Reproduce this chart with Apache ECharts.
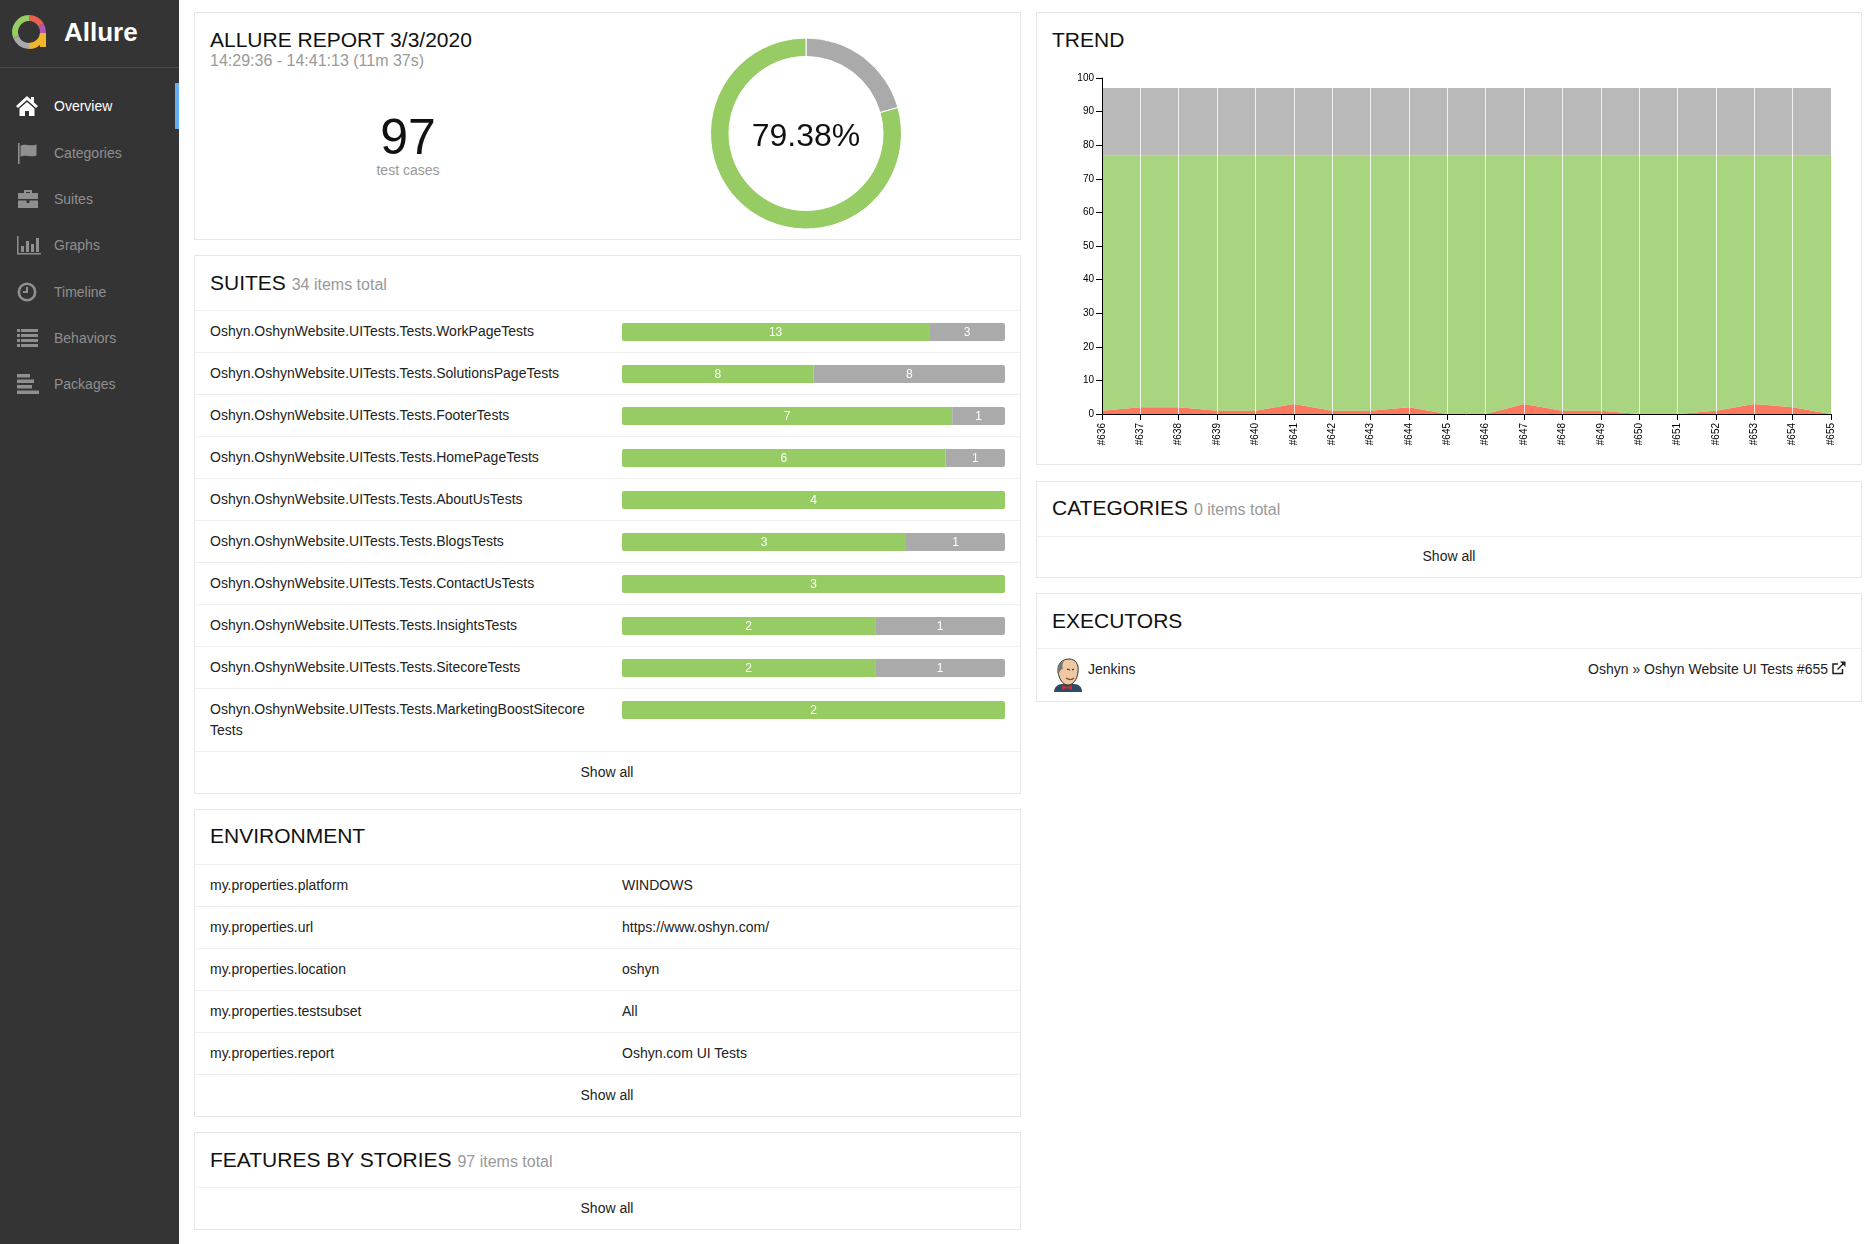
<!DOCTYPE html>
<html lang="en">

<head>
  <meta charset="UTF-8">
  <title>Allure Report</title>
  <script src="https://cdn.jsdelivr.net/npm/echarts@6/dist/echarts.min.js"></script>
  <style>
    html, body { margin: 0; padding: 0; background: #fff; }
    body { width: 1870px; height: 1244px; overflow: hidden; position: relative; font: 14px "Liberation Sans", Arial, sans-serif; color: #222; }
    .abs { position: absolute; white-space: nowrap; }
    #side { position: absolute; left: 0; top: 0; width: 179px; height: 1244px; background: #343434; }
    #sideline { position: absolute; left: 0; top: 67px; width: 179px; height: 1px; background: #4a4a4a; }
    #active { position: absolute; left: 175px; top: 83px; width: 4px; height: 46px; background: #63aef5; }
    .card { position: absolute; box-sizing: border-box; background: #fff; border: 1px solid #e6e6e6; }
    .muted { font-size: 16px; color: #999; }
    .sep { position: absolute; height: 1px; background: #eee; }
    .chart { position: absolute; }
  </style>
</head>

<body>
  <div id="side"><div id="sideline"></div><div id="active"></div></div>
  <div id="page"></div>
  <div id="pie" class="chart" style="left:706px;top:33px;width:200px;height:200px;"></div>
  <div id="bars" class="chart" style="left:600px;top:311px;width:420px;height:420px;"></div>
  <div id="trend" class="chart" style="left:1036px;top:12px;width:826px;height:453px;"></div>

  <script>
    // statistic
    var passedTotal = 77;
    var skippedTotal = 20;

    // suites widget
    var suiteNames = [
      'Oshyn.OshynWebsite.UITests.Tests.WorkPageTests',
      'Oshyn.OshynWebsite.UITests.Tests.SolutionsPageTests',
      'Oshyn.OshynWebsite.UITests.Tests.FooterTests',
      'Oshyn.OshynWebsite.UITests.Tests.HomePageTests',
      'Oshyn.OshynWebsite.UITests.Tests.AboutUsTests',
      'Oshyn.OshynWebsite.UITests.Tests.BlogsTests',
      'Oshyn.OshynWebsite.UITests.Tests.ContactUsTests',
      'Oshyn.OshynWebsite.UITests.Tests.InsightsTests',
      'Oshyn.OshynWebsite.UITests.Tests.SitecoreTests',
      'Oshyn.OshynWebsite.UITests.Tests.MarketingBoostSitecore<br>Tests'
    ];
    var suitePassed = [13, 8, 7, 6, 4, 3, 3, 2, 2, 2];
    var suiteSkipped = [3, 8, 1, 1, 0, 1, 0, 1, 1, 0];

    // trend widget
    var builds = ['#636', '#637', '#638', '#639', '#640', '#641', '#642', '#643', '#644', '#645',
      '#646', '#647', '#648', '#649', '#650', '#651', '#652', '#653', '#654', '#655'];
    var trendFailed = [1, 2, 2, 1, 1, 3, 1, 1, 2, 0, 0, 3, 1, 1, 0, 0, 1, 3, 2, 0];
    var trendPassed = [76, 75, 75, 76, 76, 74, 76, 76, 75, 77, 77, 74, 76, 76, 77, 77, 76, 74, 75, 77];
    var trendSkipped = [20, 20, 20, 20, 20, 20, 20, 20, 20, 20, 20, 20, 20, 20, 20, 20, 20, 20, 20, 20];

    // environment widget
    var envKeys = ['my.properties.platform', 'my.properties.url', 'my.properties.location', 'my.properties.testsubset', 'my.properties.report'];
    var envValues = ['WINDOWS', 'https://www.oshyn.com/', 'oshyn', 'All', 'Oshyn.com UI Tests'];

    var menuNames = ['Overview', 'Categories', 'Suites', 'Graphs', 'Timeline', 'Behaviors', 'Packages'];

    var GREEN = '#97cc64', GRAY = '#aaaaaa', RED = '#fd5a3e';

    //#region page frame
    var page = document.getElementById('page');
    var side = document.getElementById('side');

    function add(parent, cls, css, html) {
      var el = document.createElement('div');
      el.className = cls;
      el.style.cssText = css;
      if (html !== undefined) el.innerHTML = html;
      parent.appendChild(el);
      return el;
    }
    // one line of text, vertically centred on cy
    function text(parent, x, cy, str, css) {
      return add(parent, 'abs', 'left:' + x + 'px;top:' + (cy - 12) + 'px;line-height:24px;' + (css || ''), str);
    }
    function centered(parent, cx, cy, str, css) {
      return add(parent, 'abs', 'left:' + (cx - 200) + 'px;width:400px;text-align:center;top:' + (cy - 12) + 'px;line-height:24px;' + (css || ''), str);
    }
    function card(x, y, w, h) {
      add(page, 'card', 'left:' + x + 'px;top:' + y + 'px;width:' + w + 'px;height:' + h + 'px;');
    }
    function sep(x, y, w) {
      add(page, 'sep', 'left:' + x + 'px;top:' + y + 'px;width:' + w + 'px;');
    }

    var LEFT = 194, RIGHT = 1036, LEFTW = 827, RIGHTW = 826;

    card(LEFT, 12, LEFTW, 228);
    text(page, 210, 40, 'ALLURE REPORT 3/3/2020', 'font-size:21px;color:#111;');
    text(page, 210, 61, '14:29:36 - 14:41:13 (11m 37s)', 'font-size:16px;color:#999;');
    centered(page, 408, 137, String(passedTotal + skippedTotal), 'font-size:50px;color:#111;');
    centered(page, 408, 170, 'test cases', 'color:#999;');

    card(LEFT, 255, LEFTW, 539);
    text(page, 210, 283, 'SUITES <span class="muted">34 items total</span>', 'font-size:21px;color:#111;');
    suiteNames.forEach(function (name, i) {
      sep(LEFT + 1, 310 + 42 * i, LEFTW - 2);
      add(page, 'abs', 'left:210px;top:' + (321 + 42 * i) + 'px;line-height:21px;', name);
    });
    sep(LEFT + 1, 688 + 63, LEFTW - 2);
    centered(page, 607, 772, 'Show all');

    card(LEFT, 809, LEFTW, 308);
    text(page, 210, 836, 'ENVIRONMENT', 'font-size:21px;color:#111;');
    envKeys.forEach(function (key, i) {
      sep(LEFT + 1, 864 + 42 * i, LEFTW - 2);
      text(page, 210, 885 + 42 * i, key);
      text(page, 622, 885 + 42 * i, envValues[i]);
    });
    sep(LEFT + 1, 1074, LEFTW - 2);
    centered(page, 607, 1095, 'Show all');

    card(LEFT, 1132, LEFTW, 98);
    text(page, 210, 1160, 'FEATURES BY STORIES <span class="muted">97 items total</span>', 'font-size:21px;color:#111;');
    sep(LEFT + 1, 1187, LEFTW - 2);
    centered(page, 607, 1208, 'Show all');

    card(RIGHT, 12, RIGHTW, 453);
    text(page, 1052, 40, 'TREND', 'font-size:21px;color:#111;');

    card(RIGHT, 481, RIGHTW, 97);
    text(page, 1052, 508, 'CATEGORIES <span class="muted">0 items total</span>', 'font-size:21px;color:#111;');
    sep(RIGHT + 1, 536, RIGHTW - 2);
    centered(page, 1449, 556, 'Show all');

    card(RIGHT, 593, RIGHTW, 109);
    text(page, 1052, 621, 'EXECUTORS', 'font-size:21px;color:#111;');
    sep(RIGHT + 1, 648, RIGHTW - 2);
    text(page, 1088, 669, 'Jenkins');
    add(page, 'abs', 'right:' + (1870 - 1828) + 'px;top:657px;line-height:24px;', 'Oshyn &raquo; Oshyn Website UI Tests #655');

    add(page, 'abs', 'left:1832px;top:661px;width:14px;height:14px;',
      '<svg width="14" height="14" viewBox="0 0 14 14" fill="none" stroke="#222" stroke-width="1.5">' +
      '<path d="M10.5 8v4.5h-9.500v-9.500h5"/><path d="M5.500 8.500L12.500 1.500"/><path d="M8 0.500h5.500v5.500z" fill="#222" stroke="none"/></svg>');

    // jenkins butler, small approximation
    add(page, 'abs', 'left:1053px;top:658px;width:30px;height:34px;',
      '<svg width="30" height="34" viewBox="0 0 30 34">' +
      '<path d="M1 34c0-5 4-8 8-8h12c5 0 8 3 8 8z" fill="#2f4a66"/>' +
      '<path d="M5 14C4 5 10 1 16 1c7 0 10 6 9 13-1 8-5 13-10 13S6 21 5 14z" fill="#efc9a4" stroke="#333" stroke-width="1"/>' +
      '<path d="M6 15C4 8 7 4 11 3c-2 3-2 6-1 8-2 0-3 2-4 4z" fill="#777"/>' +
      '<path d="M13 20c3 2 6 2 8 0" fill="none" stroke="#7a4a30" stroke-width="1.200"/>' +
      '<path d="M14 11l3 1M21 11l-2 1" stroke="#333" stroke-width="1.200"/>' +
      '<path d="M9 27l5 2 5-2v5l-5-2-5 2z" fill="#c8302c"/></svg>');
    //#endregion

    //#region sidebar
    var iconPaths = [
      '<path d="M11 2L0 12l2 2 9-8 9 8 2-2-4-3.600V3h-3v2.700z" fill="C"/><path d="M3.500 14.500L11 8l7.500 6.500V22H13v-5H9v5H3.500z" fill="C"/>',
      '<path d="M2 2h1.600v21H2z" fill="C"/><path d="M4.500 5c5-3 8 1 16-1.500v11c-7 2.500-11-1.500-16 1.500z" fill="C"/>',
      '<path d="M8 6V3h8v3h6v6H2V6zm2 0h4V5h-4z" fill="C" fill-rule="evenodd"/><path d="M2 13.500h8.500V16h3v-2.500H22V21H2z" fill="C"/>',
      '<path d="M1 3h1.500v17H25v1.500H1z" fill="C"/><path d="M5 13h3v6H5zM10 8h3v11h-3zM15 11h3v8h-3zM20 5h3v14h-3z" fill="C"/>',
      '<circle cx="11" cy="12" r="8.200" fill="none" stroke="C" stroke-width="2.600"/><path d="M10 7h2v6H7v-2h3z" fill="C"/>',
      '<path d="M1 3h3v3H1zM5 3h17v3H5zM1 8h3v3H1zM5 8h17v3H5zM1 13h3v3H1zM5 13h17v3H5zM1 18h3v3H1zM5 18h17v3H5z" fill="C"/>',
      '<path d="M1 2h13v3.500H1zM1 7.500h17V11H1zM1 13h15v3.500H1zM1 18.500h22V22H1z" fill="C"/>'
    ];
    menuNames.forEach(function (name, i) {
      var cy = Math.round(106 + 46.4 * i);
      if (i === 1) cy += 1;
      var color = i === 0 ? '#ffffff' : '#8f8f8f';
      text(side, 54, cy, name, 'color:' + color + ';');
      add(side, 'abs', 'left:16px;top:' + (cy - 12) + 'px;width:26px;height:24px;',
        '<svg width="26" height="24" viewBox="0 0 26 24">' + iconPaths[i].replace(/"C"/g, '"' + color + '"') + '</svg>');
    });
    text(side, 64, 32, 'Allure', 'font-size:26px;font-weight:bold;color:#fff;');
    add(side, 'abs', 'left:10px;top:13px;width:38px;height:38px;',
      '<svg width="38" height="38" viewBox="0 0 38 38" fill="none" stroke-width="6">' +
      '<path d="M19 5a14 14 0 0 1 12 7" stroke="#e8614e"/><path d="M31 12a14 14 0 0 1 2 8" stroke="#b456b8"/>' +
      '<path d="M33 20v14" stroke="#f0b72e"/><path d="M33 20a14 14 0 0 1-14 13" stroke="#f0b72e"/>' +
      '<path d="M19 33a14 14 0 0 1-13-9" stroke="#aaaaaa"/><path d="M6 24a14 14 0 0 1 13-19" stroke="#97cc64"/></svg>');
    //#endregion

    //#region 圓環 pie
    var pieChart = echarts.init(document.getElementById('pie'));
    pieChart.setOption({
      animation: false,
      title: {
        text: (passedTotal / (passedTotal + skippedTotal) * 100).toFixed(2) + '%',
        left: 'center', top: 83,
        textStyle: { fontFamily: 'Liberation Sans', fontSize: 32, fontWeight: 'normal', color: '#111' }
      },
      series: [{
        type: 'pie',
        center: [100, 100.5],
        radius: [77, 95.5],
        startAngle: 90,
        label: { show: false },
        itemStyle: { borderColor: '#fff', borderWidth: 1 },
        data: [
          { value: skippedTotal, name: 'skipped', itemStyle: { color: GRAY } },
          { value: passedTotal, name: 'passed', itemStyle: { color: GREEN } }
        ]
      }]
    });
    //#endregion

    //#region suites bars, each row is scaled to 100%
    // the report's segments carry some padding before the free width is shared out
    var SEGMENT_PAD = 1.7;
    function barData(values, others, isFirst) {
      return values.map(function (v, i) {
        if (!v) return null;
        var total = v + others[i];
        var pct = others[i] === 0 ? 100 : SEGMENT_PAD + (100 - 2 * SEGMENT_PAD) * v / total;
        var radius = others[i] === 0 ? 2 : (isFirst ? [2, 0, 0, 2] : [0, 2, 2, 0]);
        return { value: pct, count: v, itemStyle: { borderRadius: radius } };
      });
    }
    var barLabel = {
      show: true, position: 'inside', offset: [0, 1], color: '#fff', fontSize: 12, fontFamily: 'Liberation Sans',
      formatter: function (p) { return p.data.count; }
    };
    var barsChart = echarts.init(document.getElementById('bars'));
    barsChart.setOption({
      animation: false,
      grid: { left: 22, top: 0, width: 383, height: 420 },
      xAxis: { type: 'value', min: 0, max: 100, show: false },
      yAxis: { type: 'category', inverse: true, show: false, data: suiteNames },
      series: [
        { type: 'bar', stack: 'suite', barWidth: 18, label: barLabel, itemStyle: { color: GREEN }, data: barData(suitePassed, suiteSkipped, true) },
        { type: 'bar', stack: 'suite', barWidth: 18, label: barLabel, itemStyle: { color: GRAY }, data: barData(suiteSkipped, suitePassed, false) }
      ]
    });
    //#endregion

    //#region trend
    function areaSeries(name, values, color) {
      return {
        name: name, type: 'line', stack: 'trend', data: values,
        symbol: 'none', lineStyle: { width: 0 },
        areaStyle: { color: color, opacity: 0.82 }
      };
    }
    var axisFont = { fontFamily: 'Liberation Sans', fontSize: 10, color: '#000' };
    var trendChart = echarts.init(document.getElementById('trend'));
    trendChart.setOption({
      animation: false,
      grid: { left: 66, right: 31, top: 66, height: 336 },
      xAxis: {
        type: 'category', boundaryGap: false, data: builds, z: 5,
        axisLine: { lineStyle: { color: '#000', width: 1 } },
        axisTick: { show: true, length: 6, alignWithLabel: true, lineStyle: { color: '#000' } },
        axisLabel: Object.assign({ rotate: 90, interval: 0, margin: 9 }, axisFont),
        splitLine: { show: true, showMinLine: false, showMaxLine: false, lineStyle: { color: 'rgba(255,255,255,0.8)', width: 1 } }
      },
      yAxis: {
        type: 'value', min: 0, max: 100, interval: 10, z: 5,
        axisLine: { show: true, lineStyle: { color: '#000', width: 1 } },
        axisTick: { show: true, length: 6, lineStyle: { color: '#000' } },
        axisLabel: Object.assign({ margin: 8 }, axisFont),
        splitLine: { show: false }
      },
      series: [
        areaSeries('failed', trendFailed, RED),
        areaSeries('passed', trendPassed, GREEN),
        areaSeries('skipped', trendSkipped, GRAY)
      ]
    });
    //#endregion
  </script>
</body>

</html>
